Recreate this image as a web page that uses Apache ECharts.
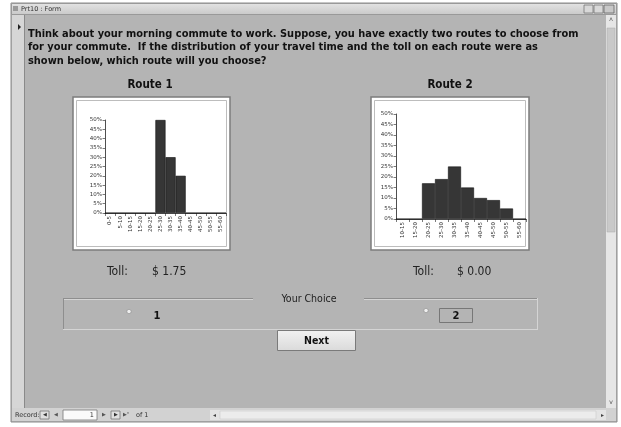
<!DOCTYPE html>
<html><head><meta charset="utf-8">
<script src="https://cdn.jsdelivr.net/npm/echarts@6/dist/echarts.min.js"></script>
<style>html,body{margin:0;padding:0;background:#fff}#c{width:621px;height:427px}</style>
</head><body><div id="c"></div>
<script>
// ---- data ----
const route1Categories = ['0-5','5-10','10-15','15-20','20-25','25-30','30-35','35-40','40-45','45-50','50-55','55-60'];
const route1Values = [0,0,0,0,0,50,30,20,0,0,0,0];
const route2Categories = ['10-15','15-20','20-25','25-30','30-35','35-40','40-45','45-50','50-55','55-60'];
const route2Values = [0,0,17,19,25,15,10,9,5,0];
const yAxisMax = 50;      // percent
const yAxisStep = 5;
const questionLines = [
  'Think about your morning commute to work. Suppose, you have exactly two routes to choose from',
  'for your commute.  If the distribution of your travel time and the toll on each route were as',
  'shown below, which route will you choose?'
];
const routeTitles = ['Route 1', 'Route 2'];
const tolls = ['$ 1.75', '$ 0.00'];

const chart = echarts.init(document.getElementById('c'));
const QF = 'bold 10.95px "DejaVu Sans Condensed", "DejaVu Sans", sans-serif';
const RF = '12px "DejaVu Sans Condensed", "DejaVu Sans", sans-serif';
function txt(text, x, y, font, fill, align, valign) {
  return {type:'text', silent:true, style:{text:text, x:x, y:y, font:font, fill:fill||'#111',
    textAlign:align||'left', align:align||'left', textVerticalAlign:valign||'middle', verticalAlign:valign||'middle'}};
}
function rect(x,y,w,h,fill,stroke,lw){
  return {type:'rect', silent:true, shape:{x:x,y:y,width:w,height:h}, style:{fill:fill||'none', stroke:stroke||null, lineWidth:lw||1}};
}
function line(x1,y1,x2,y2,stroke,lw){
  return {type:'line', silent:true, shape:{x1:x1,y1:y1,x2:x2,y2:y2}, style:{stroke:stroke, lineWidth:lw||1}};
}
const g = [];
// window frame
g.push(rect(11,3,606,419,'#b4b4b4','#8c8c8c',1));
g.push({type:'rect', silent:true, shape:{x:11.5,y:3.5,width:605,height:11},
  style:{fill:new echarts.graphic.LinearGradient(0,0,0,1,[{offset:0,color:'#e4e4e4'},{offset:1,color:'#c8c8c8'}]), stroke:'#999'}});
g.push(rect(13,6,5,5,'#9a9a9a'));
g.push(txt('Prt10 : Form', 21, 9, '6.5px "DejaVu Sans", sans-serif', '#333'));
g.push(rect(584,5,9,8,'#d8d8d8','#777',0.8));
g.push(rect(594,5,9,8,'#d8d8d8','#777',0.8));
g.push(rect(604,5,10,8,'#c8c8c8','#666',0.8));
// record selector
g.push(rect(12,15,12,393,'#d6d6d6'));
g.push(line(24.5,15,24.5,408,'#8a8a8a',1));
g.push({type:'polygon', silent:true, shape:{points:[[18,24],[18,30],[21,27]]}, style:{fill:'#222'}});
// vertical scrollbar
g.push(rect(606,15,10,393,'#e6e6e6'));
g.push(rect(607,28,8,204,'#c9c9c9','#aaa',0.5));
g.push(txt('\u02C4',611,20,'7px sans-serif','#555','center'));
g.push(txt('\u02C5',611,403,'7px sans-serif','#555','center'));
// bottom nav bar
g.push(rect(12,408,604,13,'#d2d2d2'));
g.push(txt('Record:',15,415,'6.5px "DejaVu Sans", sans-serif','#333'));
g.push(rect(40,411,9,8,'#e0e0e0','#777',0.8));
g.push(txt('\u25C0',44.5,415,'5px sans-serif','#333','center'));
g.push(txt('\u25C0',56,415,'5px sans-serif','#555','center'));
g.push(rect(63,410,34,10,'#fafafa','#777',0.8));
g.push(txt('1',94,415,'6.5px "DejaVu Sans", sans-serif','#333','right'));
g.push(txt('\u25B6',104,415,'5px sans-serif','#555','center'));
g.push(rect(111,411,9,8,'#e0e0e0','#777',0.8));
g.push(txt('\u25B6',115.5,415,'5px sans-serif','#333','center'));
g.push(txt('\u25B6*',123,415,'5px sans-serif','#555'));
g.push(txt('of 1',136,415,'6.5px "DejaVu Sans", sans-serif','#333'));
g.push(rect(210,410,396,10,'#e4e4e4'));
g.push(txt('\u25C2',214,415,'6px sans-serif','#444','center'));
g.push(txt('\u25B8',602,415,'6px sans-serif','#444','center'));
g.push(rect(220,411,376,8,'#ececec','#c4c4c4',0.5));
// question
questionLines.forEach(function(s,i){ g.push(txt(s, 28, 34 + i*13.5, QF, '#111')); });
// route titles
g.push(txt(routeTitles[0], 150, 85, 'bold 11.5px "DejaVu Sans Condensed", "DejaVu Sans", sans-serif', '#111','center'));
g.push(txt(routeTitles[1], 450, 85, 'bold 11.5px "DejaVu Sans Condensed", "DejaVu Sans", sans-serif', '#111','center'));
// chart boxes
g.push(rect(73,97,157,153,'#ffffff','#7c7c7c',1.5));
g.push(rect(76.5,100.5,150,146,'none','#bdbdbd',1));
g.push(rect(371,97,158,153,'#ffffff','#7c7c7c',1.5));
g.push(rect(374.5,100.5,151,146,'none','#bdbdbd',1));
// tolls
g.push(txt('Toll:', 107, 272, RF, '#222'));
g.push(txt(tolls[0], 152, 272, RF, '#222'));
g.push(txt('Toll:', 413, 272, RF, '#222'));
g.push(txt(tolls[1], 457, 272, RF, '#222'));
// choice group box
g.push(line(63,298.5,253,298.5,'#8e8e8e',1));
g.push(line(63,299.5,253,299.5,'#d4d4d4',1));
g.push(line(364,298.5,538,298.5,'#8e8e8e',1));
g.push(line(364,299.5,538,299.5,'#d4d4d4',1));
g.push(line(63.5,298,63.5,330,'#8e8e8e',1));
g.push(line(537.5,298,537.5,330,'#d4d4d4',1));
g.push(line(63,329.5,538,329.5,'#d4d4d4',1));
g.push(txt('Your Choice', 309, 299, '10.5px "DejaVu Sans Condensed", "DejaVu Sans", sans-serif', '#222','center'));
g.push({type:'circle', silent:true, shape:{cx:129,cy:311.5,r:2.2}, style:{fill:'#eee', stroke:'#888', lineWidth:0.6}});
g.push(txt('1', 157, 316.5, 'bold 10px "DejaVu Sans", sans-serif', '#111','center'));
g.push({type:'circle', silent:true, shape:{cx:426,cy:310.5,r:2.2}, style:{fill:'#eee', stroke:'#888', lineWidth:0.6}});
g.push(rect(439.5,308.5,33,14,'none','#777',1));
g.push(txt('2', 456, 316, 'bold 10px "DejaVu Sans", sans-serif', '#111','center'));
// next button
g.push({type:'rect', silent:true, shape:{x:277.5,y:330.5,width:78,height:20},
  style:{fill:new echarts.graphic.LinearGradient(0,0,0,1,[{offset:0,color:'#f2f2f2'},{offset:1,color:'#dadada'}]), stroke:'#7a7a7a', lineWidth:1}});
g.push(txt('Next', 316.5, 341, 'bold 10.5px "DejaVu Sans Condensed", "DejaVu Sans", sans-serif', '#111','center'));

const axFont = 5.5;
function xAx(cats, gi){
  return {type:'category', gridIndex:gi, data:cats, boundaryGap:true,
    axisLine:{lineStyle:{color:'#222', width:0.8}},
    axisTick:{show:true, length:3, lineStyle:{color:'#222', width:0.6}},
    axisLabel:{interval:0, rotate:90, fontSize:axFont, color:'#333', margin:3, fontFamily:'"DejaVu Sans", sans-serif'},
    splitLine:{show:false}};
}
function yAx(gi){
  return {type:'value', gridIndex:gi, min:0, max:yAxisMax, interval:yAxisStep,
    axisLine:{show:true, lineStyle:{color:'#222', width:0.8}},
    axisTick:{show:true, length:2.5, lineStyle:{color:'#222', width:0.6}},
    axisLabel:{fontSize:axFont, color:'#333', margin:3, formatter:'{value}%', fontFamily:'"DejaVu Sans", sans-serif'},
    splitLine:{show:false}};
}
const barStyle = {color:'#363636', borderColor:'#111', borderWidth:0.6};
chart.setOption({
  animation:false,
  backgroundColor:'#ffffff',
  graphic:{elements:g},
  grid:[
    {left:105, top:120, width:121, height:93},
    {left:396, top:114, width:130, height:105}
  ],
  xAxis:[xAx(route1Categories,0), xAx(route2Categories,1)],
  yAxis:[yAx(0), yAx(1)],
  series:[
    {type:'bar', xAxisIndex:0, yAxisIndex:0, data:route1Values, barCategoryGap:'0%', itemStyle:barStyle, z:5},
    {type:'bar', xAxisIndex:1, yAxisIndex:1, data:route2Values, barCategoryGap:'0%', itemStyle:barStyle, z:5}
  ]
});
</script></body></html>
